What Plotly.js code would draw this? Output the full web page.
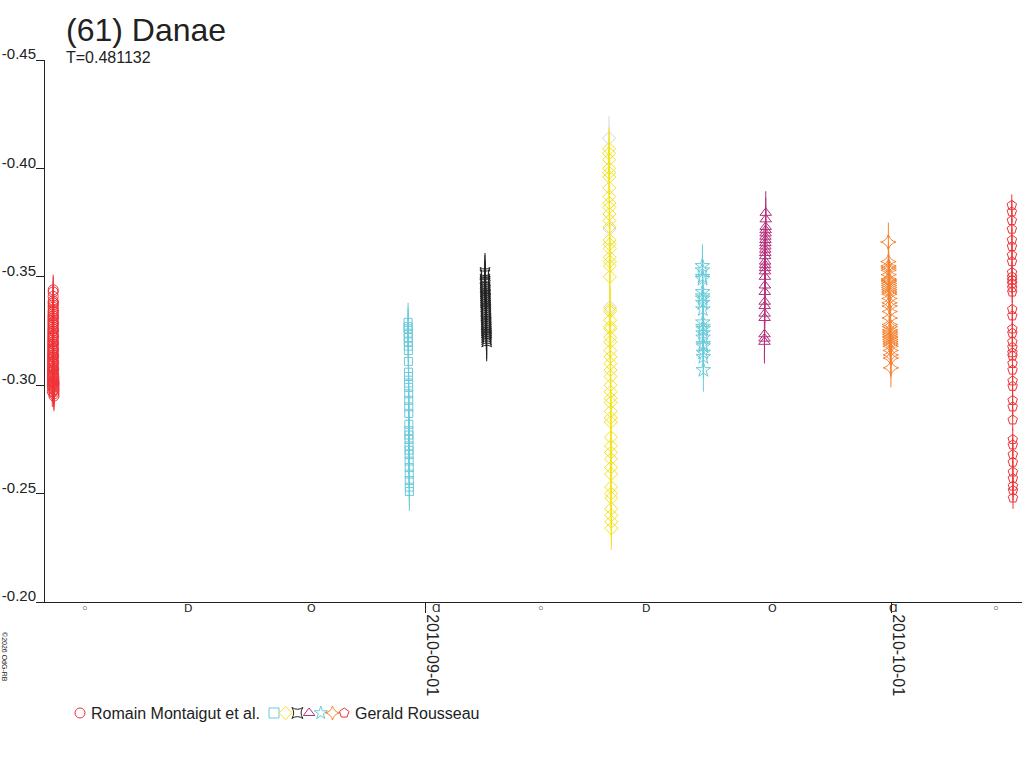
<html>
<head>
<script src="https://cdn.plot.ly/plotly-3.0.1.min.js"></script>
<style>
  body { margin: 0; background: #fff; }
  #chart { width: 1024px; height: 768px; }
</style>
</head>
<body>
<div id="chart"></div>
<script>
// ---- data (magnitudes, UTC times) ----
const title = "(61) Danae";
const subtitle = "T=0.481132";
const observer1 = "Romain Montaigut et al.";
const observer2 = "Gerald Rousseau";

// Romain Montaigut et al. - 2010-08-08
const romDate = "2010-08-08";
const romTimes = ['00:00','00:02','00:04','00:06','00:08','00:10','00:12','00:14','00:16','00:18',
  '00:20','00:22','00:24','00:26','00:28','00:30','00:32','00:34','00:36','00:38',
  '00:40','00:42','00:44','00:46','00:48','00:50','00:52','00:54','00:56','00:58',
  '01:00','01:02','01:04','01:06','01:08','01:10','01:12','01:14','01:16','01:18',
  '01:20','01:22','01:24','01:26','01:28','01:30','01:32','01:34','01:36','01:38',
  '01:40','01:42','01:44','01:46','01:48','01:50','01:52','01:54','01:56','01:58',
  '02:00','02:02','02:04','02:06','02:08','02:10','02:12','02:14','02:16','02:18',
  '02:20','02:22','02:24','02:26','02:28','02:30','02:32','02:34','02:36','02:38'];
const romMag = [-0.300,-0.297,-0.302,-0.299,-0.304,-0.301,-0.306,-0.303,-0.308,-0.305,
  -0.310,-0.307,-0.312,-0.309,-0.314,-0.311,-0.316,-0.313,-0.318,-0.315,
  -0.320,-0.317,-0.322,-0.319,-0.324,-0.321,-0.326,-0.323,-0.328,-0.325,
  -0.330,-0.327,-0.332,-0.329,-0.334,-0.331,-0.336,-0.333,-0.338,-0.341,
  -0.343,-0.339,-0.344,-0.337,-0.335,-0.338,-0.332,-0.334,-0.329,-0.331,
  -0.326,-0.328,-0.323,-0.325,-0.320,-0.322,-0.317,-0.319,-0.314,-0.316,
  -0.311,-0.313,-0.308,-0.310,-0.305,-0.307,-0.302,-0.304,-0.300,-0.302,
  -0.298,-0.301,-0.296,-0.299,-0.303,-0.297,-0.300,-0.295,-0.298,-0.301];

// Gerald Rousseau - 2010-08-30 (squares)
const gr1Date = "2010-08-30";
const gr1Times = ['21:45','21:49','21:53','21:58','22:02','22:06','22:10','22:15','22:19','22:23','22:27','22:32','22:36','22:40','22:44',
  '22:49','22:53','22:57','23:01','23:06','23:10','23:14','23:18','23:23','23:27','23:31','23:35','23:40','23:44','23:48'];
const gr1Mag = [-0.329,-0.327,-0.326,-0.324,-0.322,-0.320,-0.318,-0.316,-0.311,-0.306,-0.304,-0.301,-0.299,-0.296,-0.293,
  -0.290,-0.287,-0.282,-0.279,-0.277,-0.275,-0.272,-0.270,-0.268,-0.265,-0.262,-0.259,-0.256,-0.253,-0.251];

// 2010-09-04 (black)
const gr2Date = "2010-09-04";
const gr2Times = ['20:30','20:35','20:41','20:46','20:51','20:57','21:02','21:07','21:13','21:18','21:23','21:29','21:34','21:39','21:45','21:50',
  '21:55','22:01','22:06','22:11','22:17','22:22','22:27','22:33','22:38','22:43','22:49','22:54','22:59','23:05','23:10','23:15'];
const gr2Mag = [-0.351,-0.349,-0.352,-0.347,-0.345,-0.348,-0.343,-0.346,-0.341,-0.344,-0.339,-0.342,-0.338,-0.340,-0.336,-0.337,
  -0.334,-0.335,-0.332,-0.333,-0.330,-0.331,-0.328,-0.329,-0.327,-0.325,-0.326,-0.324,-0.322,-0.323,-0.321,-0.320];

// 2010-09-12 (yellow diamonds)
const gr3Date = "2010-09-12";
const gr3Times = ['20:20','20:24','20:28','20:32','20:36','20:40','20:44','20:48','20:52','20:56','21:00','21:04','21:08','21:12','21:16','21:20',
  '21:24','21:28','21:32','21:36','21:52','21:56','22:00','22:04','22:08','22:12','22:16','22:20','22:24','22:28','22:32','22:36','22:40',
  '22:44','22:48','22:52','22:56','23:00','23:04','23:08','23:12','23:16','23:20','23:24','23:28','23:32','23:36','23:40','23:44','23:48',
  '23:52','23:56'];
const gr3Mag = [-0.409,-0.407,-0.404,-0.400,-0.398,-0.396,-0.391,-0.387,-0.384,-0.382,-0.379,-0.376,-0.373,-0.367,-0.365,-0.363,
  -0.359,-0.357,-0.355,-0.350,-0.335,-0.334,-0.330,-0.327,-0.326,-0.322,-0.320,-0.316,-0.313,-0.310,-0.307,-0.304,-0.300,
  -0.297,-0.294,-0.292,-0.288,-0.285,-0.283,-0.276,-0.272,-0.269,-0.266,-0.262,-0.259,-0.253,-0.250,-0.248,-0.243,-0.240,
  -0.237,-0.234];
// rejected points of that night (grey)
const gr3xTimes = ['20:18','21:10','21:44'];
const gr3xMag = [-0.414,-0.372,-0.336];

// 2010-09-18 (cyan stars)
const gr4Date = "2010-09-18";
const gr4Times = ['20:35','20:40','20:45','20:50','20:55','21:00','21:05','21:10','21:15','21:20','21:25','21:30','21:35','21:40','21:45',
  '21:50','21:55','22:00','22:05'];
const gr4Mag = [-0.355,-0.353,-0.350,-0.349,-0.343,-0.341,-0.340,-0.338,-0.335,-0.329,-0.327,-0.326,-0.324,-0.322,-0.319,
  -0.318,-0.315,-0.313,-0.307];

// 2010-09-22 (purple triangles)
const gr5Date = "2010-09-22";
const gr5Times = ['20:25','20:30','20:35','20:40','20:45','20:50','20:55','21:00','21:05','21:10','21:15','21:20','21:25','21:30','21:35',
  '21:40','21:45','21:50','21:55','22:00','22:05','22:10','22:15','22:20','22:25','22:30'];
const gr5Mag = [-0.320,-0.3215,-0.3235,-0.331,-0.333,-0.3365,-0.3385,-0.343,-0.346,-0.350,-0.3525,-0.354,-0.3555,-0.357,-0.3595,
  -0.361,-0.3625,-0.364,-0.3655,-0.367,-0.3685,-0.370,-0.3715,-0.373,-0.3765,-0.3795];

// 2010-09-30 (orange 4-point stars)
const gr6Date = "2010-09-30";
const gr6Times = ['19:55','20:02','20:09','20:16','20:23','20:30','20:37','20:44','20:51','20:58','21:05','21:12','21:19','21:26','21:33',
  '21:40','21:47','21:54','22:01','22:08','22:15','22:22','22:29','22:36','22:43','22:50','22:57','23:04','23:11','23:18','23:25',
  '23:32','23:39','23:46','23:53'];
const gr6Mag = [-0.366,-0.357,-0.355,-0.354,-0.353,-0.351,-0.349,-0.3485,-0.348,-0.347,-0.346,-0.345,-0.344,-0.343,-0.342,
  -0.340,-0.338,-0.3365,-0.334,-0.331,-0.328,-0.327,-0.3255,-0.3245,-0.3235,-0.3225,-0.322,-0.321,-0.320,-0.319,-0.318,
  -0.316,-0.314,-0.3125,-0.308];

// 2010-10-08 (red pentagons)
const gr7Date = "2010-10-08";
const gr7Times = ['18:40','18:43','18:46','18:49','18:52','18:55','18:58','19:01','19:04','19:07','19:10','19:13','19:16','19:19','19:22',
  '19:25','19:28','19:31','19:34','19:37','19:40','19:43','19:46','19:49','19:52','19:55','19:58','20:01','20:04','20:07','20:10',
  '20:13','20:16','20:19','20:22','20:25','20:28','20:31'];
const gr7Mag = [-0.383,-0.380,-0.376,-0.372,-0.367,-0.364,-0.360,-0.357,-0.352,-0.350,-0.3485,-0.347,-0.345,-0.343,-0.335,
  -0.332,-0.326,-0.324,-0.320,-0.3175,-0.315,-0.3135,-0.310,-0.307,-0.302,-0.2995,-0.293,-0.290,-0.284,-0.275,-0.2725,
  -0.268,-0.2645,-0.260,-0.257,-0.2535,-0.2515,-0.248];

// moon phases along the time axis
const moonDates = ['2010-08-10 03:08','2010-08-16 18:14','2010-08-24 17:05','2010-09-01 17:22','2010-09-08 10:30',
  '2010-09-15 05:50','2010-09-23 09:17','2010-10-01 03:52','2010-10-07 18:44'];
const moonGlyphs = ['◦','D','O','Ɑ','◦','D','O','Ɑ','◦'];

const yTicks = [-0.45,-0.40,-0.35,-0.30,-0.25,-0.20];
const xTicks = ['2010-09-01','2010-10-01'];

// ---- drawing ----
const FONT = 'Liberation Sans, Arial, sans-serif';
const INK = '#222222';

// paper-coordinate helpers (plot area 45..1022 x 60..728)
const PL = 45, PR = 1022, PT = 60, PB = 728;
const px = v => (v - PL) / (PR - PL);
const py = v => (PB - v) / (PB - PT);

const stamp = (d, ts) => ts.map(t => d + ' ' + t);

function session(d, ts, mags, symbol, color, size, err, legendName) {
  return {
    x: stamp(d, ts), y: mags, type: 'scatter', mode: 'markers',
    marker: { symbol: symbol, size: size, color: color, line: { color: color, width: 1 } },
    error_y: { type: 'constant', value: err, width: 0, thickness: 1, color: color },
    name: legendName, showlegend: false, hoverinfo: 'x+y'
  };
}

const series = [
  session(romDate, romTimes, romMag, 'circle-open', '#ee3338', 10, 0.007, observer1),
  session(gr1Date, gr1Times, gr1Mag, 'square-open', '#6acbd9', 8, 0.009, observer2),
  session(gr3Date, gr3xTimes, gr3xMag, 'diamond-open', '#d4d4d4', 10, 0.010, observer2),
  session(gr2Date, gr2Times, gr2Mag, 'star-square-open', INK, 9, 0.009, observer2),
  session(gr3Date, gr3Times, gr3Mag, 'diamond-open', '#f4e31c', 10, 0.010, observer2),
  session(gr4Date, gr4Times, gr4Mag, 'star-open', '#6acbd9', 11, 0.010, observer2),
  session(gr5Date, gr5Times, gr5Mag, 'triangle-up-open', '#b3307c', 10, 0.010, observer2),
  session(gr6Date, gr6Times, gr6Mag, 'star-diamond-open', '#f58230', 11, 0.009, observer2),
  session(gr7Date, gr7Times, gr7Mag, 'pentagon-open', '#ee3338', 10, 0.005, observer2)
];

// home-made legend row on a hidden axis (positions in pixels)
const legendSymbols = [
  { s: 'circle-open', c: '#ee3338' },
  { s: 'square-open', c: '#6acbd9' }, { s: 'diamond-open', c: '#f4e31c' },
  { s: 'star-square-open', c: INK }, { s: 'triangle-up-open', c: '#b3307c' },
  { s: 'star-open', c: '#6acbd9' }, { s: 'star-diamond-open', c: '#f58230' },
  { s: 'pentagon-open', c: '#ee3338' }
];
const legX0 = 80, legGroupX0 = 274, legStep = 11.7;
const legend = legendSymbols.map((m, i) => ({
  x: [i === 0 ? legX0 : legGroupX0 + (i - 1) * legStep], y: [0],
  xaxis: 'x2', yaxis: 'y2', type: 'scatter', mode: 'markers',
  marker: { symbol: m.s, size: 10, color: m.c, line: { color: m.c, width: 1 } },
  showlegend: false, hoverinfo: 'skip'
}));

const textNote = (text, x, y, size, extra) => Object.assign({
  text: text, xref: 'paper', yref: 'paper', x: px(x), y: py(y), xanchor: 'left', yanchor: 'middle',
  showarrow: false, font: { family: FONT, size: size, color: INK }
}, extra || {});

// moon phase glyphs just under the time axis
const moonNotes = moonDates.map((d, i) => ({
  text: moonGlyphs[i], xref: 'x', yref: 'paper', x: d, y: py(608), xanchor: 'center', yanchor: 'middle',
  showarrow: false, font: { family: 'DejaVu Sans, sans-serif', size: moonGlyphs[i] === '◦' ? 13 : 11, color: INK }
}));

const layout = {
  width: 1024, height: 768,
  margin: { l: PL, r: 1024 - PR, t: PT, b: 768 - PB },
  paper_bgcolor: '#fff', plot_bgcolor: '#fff',
  font: { family: FONT, color: INK },
  showlegend: false,
  xaxis: {
    type: 'date', range: ['2010-08-07 12:43', '2010-10-09 10:26'], anchor: 'y',
    tickvals: xTicks, ticktext: xTicks, tickangle: 90,
    ticks: 'outside', ticklen: 10, tickcolor: INK, ticklabelshift: 7, ticklabelstandoff: -2,
    showline: true, linecolor: INK, linewidth: 1, showgrid: false, zeroline: false,
    tickfont: { family: FONT, size: 16, color: INK }
  },
  yaxis: {
    domain: [py(602), 1], range: [-0.20, -0.45], anchor: 'x',
    tickvals: yTicks, ticktext: yTicks.map(v => v.toFixed(2)),
    ticks: 'outside', ticklen: 8, tickcolor: INK, ticklabelshift: 6, ticklabelstandoff: -3,
    showline: true, linecolor: INK, linewidth: 1, showgrid: false, zeroline: false,
    tickfont: { family: FONT, size: 15, color: INK }
  },
  xaxis2: { domain: [0, 1], range: [PL, PR], anchor: 'y2', visible: false, fixedrange: true },
  yaxis2: { domain: [0, 0.045], range: [-1, 1], anchor: 'x2', visible: false, fixedrange: true },
  annotations: [
    textNote(title, 64, 30, 32),
    textNote(subtitle, 64, 57, 16),
    textNote(observer1, 89, 713, 16),
    textNote(observer2, 353, 713, 16),
    textNote('©2026 OdG-RB', 5, 657, 7, { xanchor: 'center', textangle: 90 })
  ].concat(moonNotes)
};

Plotly.newPlot('chart', series.concat(legend), layout, { staticPlot: true });
</script>
</body>
</html>
